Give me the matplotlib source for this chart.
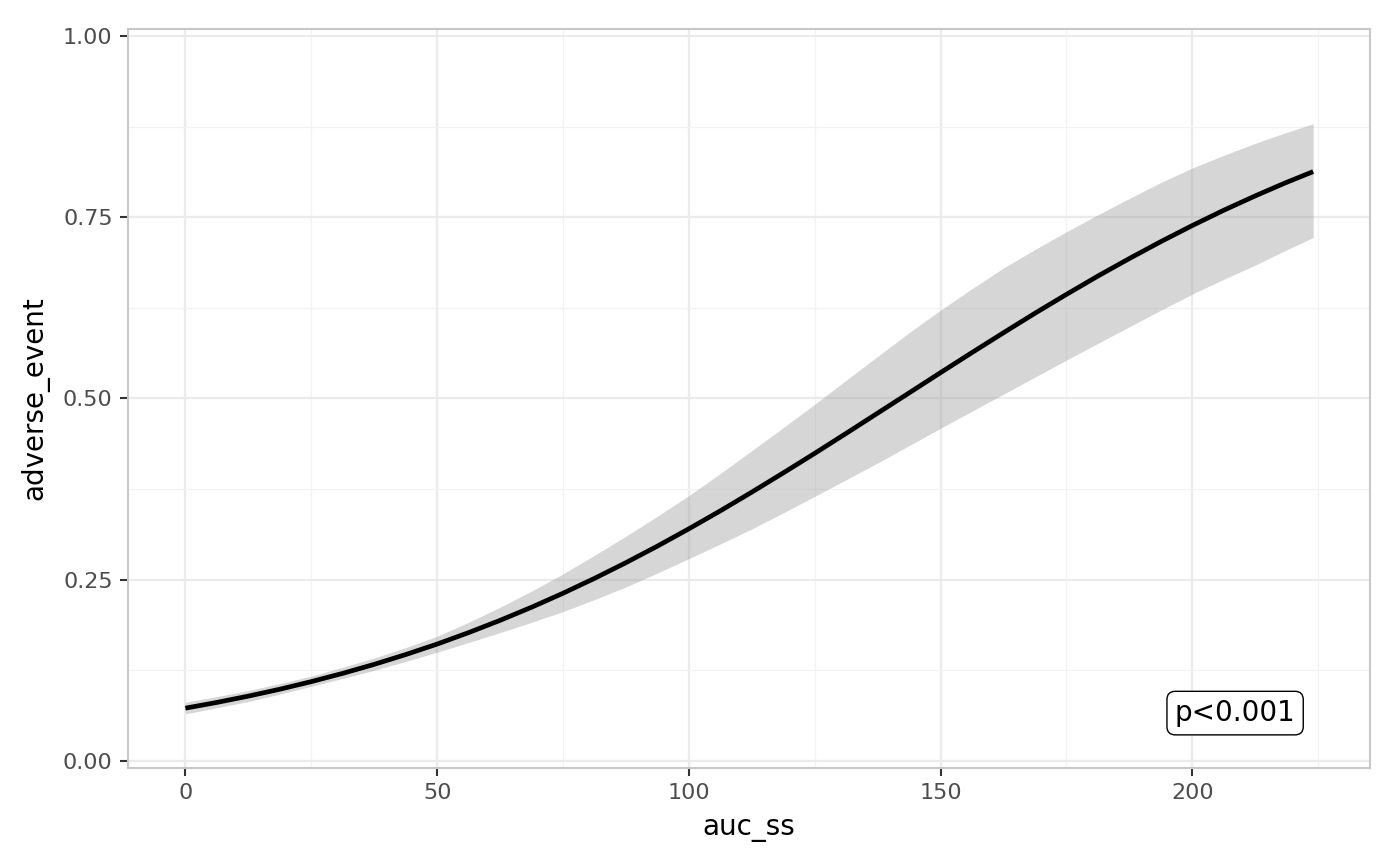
import numpy as np
import matplotlib.pyplot as plt

# values
auc_ss = [0, 6.25, 12.5, 18.75, 25, 31.25, 37.5, 43.75, 50, 56.25, 62.5,
          68.75, 75, 81.25, 87.5, 93.75, 100, 106.25, 112.5, 118.75, 125,
          131.25, 137.5, 143.75, 150, 156.25, 162.5, 168.75, 175, 181.25,
          187.5, 193.75, 200, 206.25, 212.5, 218.25, 224]
fit = [0.0728, 0.0807, 0.0894, 0.0989, 0.1094, 0.1208, 0.1332, 0.1467,
       0.1612, 0.1770, 0.1939, 0.2120, 0.2313, 0.2518, 0.2735, 0.2963,
       0.3202, 0.3450, 0.3708, 0.3973, 0.4243, 0.4519, 0.4798, 0.5077,
       0.5357, 0.5634, 0.5907, 0.6176, 0.6436, 0.6689, 0.6931, 0.7164,
       0.7386, 0.7597, 0.7795, 0.7968, 0.813]
lower = [0.065, 0.0733, 0.082, 0.0922, 0.103, 0.1138, 0.125, 0.1372,
         0.150, 0.1633, 0.177, 0.1912, 0.206, 0.2226, 0.240, 0.2592,
         0.279, 0.2993, 0.320, 0.3422, 0.365, 0.3880, 0.411, 0.4350,
         0.459, 0.4825, 0.506, 0.5295, 0.553, 0.5760, 0.599, 0.6218,
         0.644, 0.6645, 0.684, 0.7035, 0.722]
upper = [0.081, 0.0888, 0.097, 0.1068, 0.117, 0.1292, 0.142, 0.1563,
         0.172, 0.1912, 0.212, 0.2342, 0.258, 0.2836, 0.310, 0.3375,
         0.366, 0.3965, 0.428, 0.4598, 0.492, 0.5252, 0.558, 0.5908,
         0.622, 0.6515, 0.680, 0.7055, 0.730, 0.7535, 0.776, 0.7980,
         0.818, 0.8355, 0.852, 0.8660, 0.879]

x_ticks = [0, 50, 100, 150, 200]
y_ticks = [0.0, 0.25, 0.5, 0.75, 1.0]
y_labels = ['0.00', '0.25', '0.50', '0.75', '1.00']

fig = plt.figure(figsize=(14, 8.66), dpi=100)
ax = fig.add_axes([0.0914, 0.1132, 0.8872, 0.8533])

ax.fill_between(auc_ss, lower, upper, color='#999999', alpha=0.4, lw=0, zorder=2)
ax.plot(auc_ss, fit, color='black', lw=3.4, zorder=3, solid_capstyle='butt')

ax.set_xlim(-11.4, 235.3)
ax.set_ylim(-0.0097, 1.0097)
ax.set_xticks(x_ticks)
ax.set_yticks(y_ticks)
ax.set_yticklabels(y_labels)
ax.set_xticks([25, 75, 125, 175, 225], minor=True)
ax.set_yticks([0.125, 0.375, 0.625, 0.875], minor=True)

ax.grid(which='major', color='#ebebeb', lw=1.6, zorder=0)
ax.grid(which='minor', color='#f2f2f2', lw=0.9, zorder=0)
ax.set_axisbelow(True)

for s in ax.spines.values():
    s.set_color('#c8c8c8')
    s.set_linewidth(1.5)

ax.tick_params(which='major', length=6, width=1.5, color='#333333',
               labelsize=16, labelcolor='#4d4d4d', pad=5)
ax.tick_params(which='minor', length=0)

ax.set_xlabel('auc_ss', fontsize=20, color='black', labelpad=8)
ax.set_ylabel('adverse_event', fontsize=20, color='black', labelpad=10)

ax.text(208.5, 0.066, 'p<0.001', fontsize=20, ha='center', va='center',
        bbox=dict(boxstyle='round,pad=0.28,rounding_size=0.3', fc='white',
                  ec='black', lw=1.0), zorder=5)

fig.savefig('out.png', dpi=100)
